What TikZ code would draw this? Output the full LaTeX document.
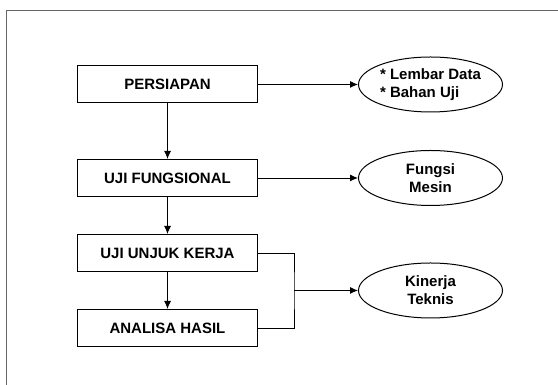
\documentclass[tikz,border=0pt]{standalone}
\usepackage{fontspec}
\setmainfont{Liberation Sans}
\usepackage{xcolor}
\usepackage{tikz}
\usetikzlibrary{positioning, calc}
\usetikzlibrary{shapes.geometric, arrows.meta}
\tikzset{
    stage/.style={draw, rectangle, line width=1pt, minimum height=37pt, minimum width=180pt, inner sep=0pt, font=\fontsize{15}{17.8}\selectfont\bfseries},
    result/.style={draw, ellipse, line width=1pt, minimum height=55pt, minimum width=144pt, inner sep=0pt, font=\fontsize{15}{17.8}\selectfont\bfseries},
    arrow/.style={line width=0.9pt,->,>={Latex[length=8pt,width=7pt]}},
    link/.style={line width=0.9pt}
}

\begin{document}
\begin{tikzpicture}[node distance=37pt and 100pt]

\useasboundingbox (0,0) rectangle (558pt,385pt);
\begin{scope}
\clip (0,0) rectangle (558pt,385pt);
\draw [gray!80!black, line width=1pt] (6pt,374pt) rectangle (620pt,-40pt);
\end{scope}

\node [stage]                          (persiapan)  at (167.5pt,300.5pt) {PERSIAPAN};
\node [stage, below=55.5pt of persiapan] (fungsional)                   {UJI FUNGSIONAL};
\node [stage, below=of fungsional]     (unjukkerja)                     {UJI UNJUK KERJA};
\node [stage, below=of unjukkerja]     (analisa)                        {ANALISA HASIL};

\node [result, align=left, right=of persiapan]   (lembar) {* Lembar Data\\* Bahan Uji};
\node [result, align=center, right=of fungsional] (mesin)  {Fungsi\\Mesin};
\node [result, align=center, anchor=west] (kinerja) at ($(unjukkerja.east)!0.5!(analisa.east)+(100pt,0)$) {Kinerja\\Teknis};
\coordinate [left=64pt of kinerja.west] (join);

\draw [arrow] (persiapan) to (lembar);
\draw [arrow] (fungsional) to (mesin);
\draw [arrow] (persiapan) to (fungsional);
\draw [arrow] (fungsional) to (unjukkerja);
\draw [arrow] (unjukkerja) to (analisa);
\draw [link] (unjukkerja.east) -| (join) |- (analisa.east);
\draw [arrow] (join) to (kinerja);

\end{tikzpicture}
\end{document}
